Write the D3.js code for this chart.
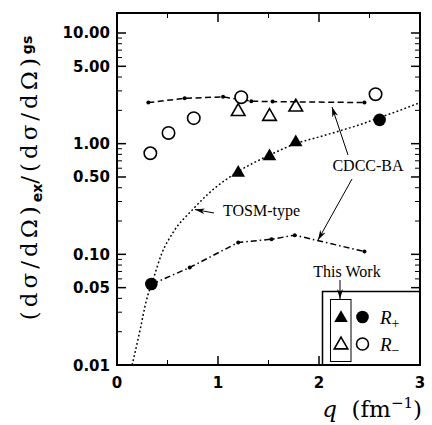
<!DOCTYPE html>
<html>
  <head>
	  <meta charset="utf-8">
	  <script src="https://d3js.org/d3.v7.min.js"></script>
	  <style type="text/css">
body{
	margin: 0;
	background: white;
}
svg{
	display: block;
}
.tick-label{
	font-family: "DejaVu Sans";
	font-weight: bold;
	font-size: 15px;
}
.note{
	font-family: "Liberation Serif";
	font-size: 16px;
}
	  </style>
  </head>
  <body>
	<script>
		// q values (fm^-1) and ratios
		var rMinusCircQ = [0.33, 0.51, 0.76, 1.23, 2.56];
		var rMinusCirc = [0.82, 1.25, 1.70, 2.63, 2.80];
		var triQ = [1.20, 1.51, 1.77];
		var rMinusTri = [1.95, 1.76, 2.14];
		var rPlusTri = [0.545, 0.77, 1.03];
		var rPlusCircQ = [0.34, 2.60];
		var rPlusCirc = [0.054, 1.64];

		var cdccUpperQ = [0.31, 0.67, 1.05, 1.33, 1.54, 2.45];
		var cdccUpper = [2.35, 2.57, 2.65, 2.42, 2.40, 2.35];
		var cdccLowerQ = [0.35, 0.72, 1.20, 1.53, 1.76, 2.45];
		var cdccLower = [0.054, 0.076, 0.128, 0.137, 0.149, 0.106];
		var tosmQ = [0.15, 0.23, 0.29, 0.36, 0.44, 0.56, 0.76, 0.90, 1.20, 1.50, 1.77, 2.00, 2.20, 2.40, 2.60, 2.80, 3.00];
		var tosm = [0.01, 0.021, 0.038, 0.06, 0.10, 0.16, 0.26, 0.35, 0.56, 0.78, 1.00, 1.15, 1.30, 1.48, 1.72, 2.00, 2.35];

		var xTicks = [0, 1, 2, 3];
		var xMinor = [0.5, 1.5, 2.5];
		var yTicks = [10, 5, 1, 0.5, 0.1, 0.05, 0.01];
		var yTickLabels = ["10.00", "5.00", "1.00", "0.50", "0.10", "0.05", "0.01"];

		var width = 432, height = 425;
		var pLeft = 117, pRight = 420, pTop = 13, pBottom = 365;

		var x = d3.scaleLinear().domain([0, 3]).range([pLeft, pRight]);
		var y = d3.scaleLog().domain([0.01, 15.16]).range([pBottom, pTop]);

		var svg = d3.select("body").append("svg")
			.attr("width", width)
			.attr("height", height);

		var defs = svg.append("defs");
		defs.append("marker")
			.attr("id", "arr")
			.attr("viewBox", "0 0 10 6")
			.attr("refX", 10).attr("refY", 3)
			.attr("markerWidth", 10).attr("markerHeight", 6)
			.attr("markerUnits", "userSpaceOnUse")
			.attr("orient", "auto")
			.append("path")
			.attr("d", "M0,0 L10,3 L0,6 L3,3 Z")
			.attr("fill", "black");

		// minor log ticks
		var yMinor = [];
		[0.01, 0.1, 1, 10].forEach(function(dec){
			for (var k = 2; k <= 9; k++){
				var v = k * dec;
				if (v < 15 && k != 5) yMinor.push(v);
			}
		});

		var g = svg.append("g");

		var yMajorTicks = g.selectAll(".ymaj").data(yTicks).enter();
		yMajorTicks.append("line")
			.attr("x1", pLeft).attr("x2", pLeft + 9)
			.attr("y1", function(d){ return y(d); }).attr("y2", function(d){ return y(d); })
			.attr("stroke", "black").attr("stroke-width", 1.5);
		yMajorTicks.append("line")
			.attr("x1", pRight).attr("x2", pRight - 9)
			.attr("y1", function(d){ return y(d); }).attr("y2", function(d){ return y(d); })
			.attr("stroke", "black").attr("stroke-width", 1.5);

		var yMinorTicks = g.selectAll(".ymin").data(yMinor).enter();
		yMinorTicks.append("line")
			.attr("x1", pLeft).attr("x2", pLeft + 5)
			.attr("y1", function(d){ return y(d); }).attr("y2", function(d){ return y(d); })
			.attr("stroke", "black").attr("stroke-width", 1);
		yMinorTicks.append("line")
			.attr("x1", pRight).attr("x2", pRight - 5)
			.attr("y1", function(d){ return y(d); }).attr("y2", function(d){ return y(d); })
			.attr("stroke", "black").attr("stroke-width", 1);

		var xMajorTicks = g.selectAll(".xmaj").data(xTicks).enter();
		xMajorTicks.append("line")
			.attr("x1", function(d){ return x(d); }).attr("x2", function(d){ return x(d); })
			.attr("y1", pBottom).attr("y2", pBottom - 9)
			.attr("stroke", "black").attr("stroke-width", 1.5);
		xMajorTicks.append("line")
			.attr("x1", function(d){ return x(d); }).attr("x2", function(d){ return x(d); })
			.attr("y1", pTop).attr("y2", pTop + 9)
			.attr("stroke", "black").attr("stroke-width", 1.5);
		var xMinorTicks = g.selectAll(".xmin").data(xMinor).enter();
		xMinorTicks.append("line")
			.attr("x1", function(d){ return x(d); }).attr("x2", function(d){ return x(d); })
			.attr("y1", pBottom).attr("y2", pBottom - 5)
			.attr("stroke", "black").attr("stroke-width", 1);
		xMinorTicks.append("line")
			.attr("x1", function(d){ return x(d); }).attr("x2", function(d){ return x(d); })
			.attr("y1", pTop).attr("y2", pTop + 5)
			.attr("stroke", "black").attr("stroke-width", 1);

		// tick labels
		g.selectAll(".ylab").data(yTicks).enter().append("text")
			.attr("class", "tick-label")
			.attr("x", pLeft - 7)
			.attr("y", function(d){ return y(d) + 5.5; })
			.attr("text-anchor", "end")
			.text(function(d, i){ return yTickLabels[i]; });
		g.selectAll(".xlab").data(xTicks).enter().append("text")
			.attr("class", "tick-label")
			.attr("x", function(d){ return x(d); })
			.attr("y", pBottom + 23)
			.attr("text-anchor", "middle")
			.text(function(d){ return d; });

		// curves
		var line = d3.line()
			.x(function(d){ return x(d[0]); })
			.y(function(d){ return y(d[1]); });

		var tosmPts = d3.zip(tosmQ, tosm);
		var upperPts = d3.zip(cdccUpperQ, cdccUpper);
		var lowerPts = d3.zip(cdccLowerQ, cdccLower);

		var plot = svg.append("g");
		plot.append("path").datum(tosmPts)
			.attr("d", line.curve(d3.curveMonotoneX))
			.attr("fill", "none").attr("stroke", "black")
			.attr("stroke-width", 1.5).attr("stroke-dasharray", "1.8,2.4");
		plot.append("path").datum(upperPts)
			.attr("d", line.curve(d3.curveLinear))
			.attr("fill", "none").attr("stroke", "black")
			.attr("stroke-width", 1.5).attr("stroke-dasharray", "6,3.5");
		plot.append("path").datum(lowerPts)
			.attr("d", line.curve(d3.curveLinear))
			.attr("fill", "none").attr("stroke", "black")
			.attr("stroke-width", 1.5).attr("stroke-dasharray", "6,3,1.5,3");

		plot.selectAll(".udot").data(upperPts).enter().append("circle")
			.attr("cx", function(d){ return x(d[0]); })
			.attr("cy", function(d){ return y(d[1]); })
			.attr("r", 2).attr("fill", "black");
		plot.selectAll(".ldot").data(lowerPts.slice(1)).enter().append("circle")
			.attr("cx", function(d){ return x(d[0]); })
			.attr("cy", function(d){ return y(d[1]); })
			.attr("r", 2).attr("fill", "black");

		// data markers
		var tri = d3.symbol().type(d3.symbolTriangle).size(80);

		plot.selectAll(".omc").data(d3.zip(rMinusCircQ, rMinusCirc)).enter().append("circle")
			.attr("cx", function(d){ return x(d[0]); })
			.attr("cy", function(d){ return y(d[1]); })
			.attr("r", 6.2).attr("fill", "white").attr("stroke", "black").attr("stroke-width", 1.6);
		plot.selectAll(".omt").data(d3.zip(triQ, rMinusTri)).enter().append("path")
			.attr("d", tri)
			.attr("transform", function(d){ return "translate(" + x(d[0]) + "," + y(d[1]) + ")"; })
			.attr("fill", "none").attr("stroke", "black").attr("stroke-width", 1.6);
		plot.selectAll(".fpt").data(d3.zip(triQ, rPlusTri)).enter().append("path")
			.attr("d", tri)
			.attr("transform", function(d){ return "translate(" + x(d[0]) + "," + y(d[1]) + ")"; })
			.attr("fill", "black");
		plot.selectAll(".fpc").data(d3.zip(rPlusCircQ, rPlusCirc)).enter().append("circle")
			.attr("cx", function(d){ return x(d[0]); })
			.attr("cy", function(d){ return y(d[1]); })
			.attr("r", 6.3).attr("fill", "black");

		// legend
		var leg = svg.append("g");
		leg.append("rect")
			.attr("x", 322.5).attr("y", 291.5).attr("width", pRight - 322.5).attr("height", pBottom - 291.5)
			.attr("fill", "white").attr("stroke", "black").attr("stroke-width", 1.5);
		leg.append("rect")
			.attr("x", 330.5).attr("y", 299.5).attr("width", 20.5).attr("height", 62)
			.attr("fill", "none").attr("stroke", "black").attr("stroke-width", 1);
		leg.append("path").attr("d", tri).attr("transform", "translate(341,318)").attr("fill", "black");
		leg.append("circle").attr("cx", 362.5).attr("cy", 317).attr("r", 6.3).attr("fill", "black");
		leg.append("path").attr("d", tri).attr("transform", "translate(341,345)")
			.attr("fill", "none").attr("stroke", "black").attr("stroke-width", 1.6);
		leg.append("circle").attr("cx", 362.5).attr("cy", 344).attr("r", 6)
			.attr("fill", "white").attr("stroke", "black").attr("stroke-width", 1.6);

		var rp = leg.append("text").attr("class", "note").attr("x", 380).attr("y", 324)
			.style("font-size", "19px");
		rp.append("tspan").style("font-style", "italic").text("R");
		rp.append("tspan").attr("dy", 4).style("font-size", "14px").text("+");
		var rm = leg.append("text").attr("class", "note").attr("x", 380).attr("y", 351)
			.style("font-size", "19px");
		rm.append("tspan").style("font-style", "italic").text("R");
		rm.append("tspan").attr("dy", 4).style("font-size", "14px").text("\u2212");

		// frame
		svg.append("rect")
			.attr("x", pLeft).attr("y", pTop).attr("width", pRight - pLeft).attr("height", pBottom - pTop)
			.attr("fill", "none").attr("stroke", "black").attr("stroke-width", 2);

		// annotations
		var notes = svg.append("g");
		notes.append("text").attr("class", "note").attr("x", 368).attr("y", 171)
			.attr("text-anchor", "middle").text("CDCC-BA");
		notes.append("text").attr("class", "note").attr("x", 223).attr("y", 216).text("TOSM-type");
		notes.append("text").attr("class", "note").attr("x", 347).attr("y", 277)
			.attr("text-anchor", "middle").text("This Work");

		var arrows = [[348, 155, 332, 107], [352, 179, 318, 240], [214, 213, 195, 209.5], [340, 280, 340, 299]];
		notes.selectAll(".arrow").data(arrows).enter().append("line")
			.attr("x1", function(d){ return d[0]; }).attr("y1", function(d){ return d[1]; })
			.attr("x2", function(d){ return d[2]; }).attr("y2", function(d){ return d[3]; })
			.attr("stroke", "black").attr("stroke-width", 1)
			.attr("marker-end", "url(#arr)");

		// axis titles
		var xt = svg.append("text")
			.attr("x", 422).attr("y", 417)
			.attr("text-anchor", "end")
			.style("font-family", "DejaVu Serif")
			.style("font-size", "23px");
		xt.append("tspan").style("font-style", "italic").text("q");
		xt.append("tspan").text("\u00a0\u00a0(fm");
		xt.append("tspan").attr("dy", -9).style("font-size", "15px").text("\u22121");
		xt.append("tspan").attr("dy", 9).text(")");

		var yt = svg.append("text")
			.attr("transform", "translate(37,178) rotate(-90)")
			.attr("text-anchor", "middle")
			.style("font-family", "DejaVu Serif")
			.style("font-size", "23px")
			.style("letter-spacing", "4px");
		yt.append("tspan").text("(d\u03c3/d\u03a9)");
		yt.append("tspan").attr("dy", 5).style("font-family", "DejaVu Sans").style("font-weight", "bold")
			.style("font-size", "14px").style("letter-spacing", "0px").text("ex");
		yt.append("tspan").attr("dy", -5).text("/(d\u03c3/d\u03a9)");
		yt.append("tspan").attr("dy", -5).style("font-family", "DejaVu Sans").style("font-weight", "bold")
			.style("font-size", "14px").style("letter-spacing", "0px").text("gs");
   	</script>
  </body>
</html>
